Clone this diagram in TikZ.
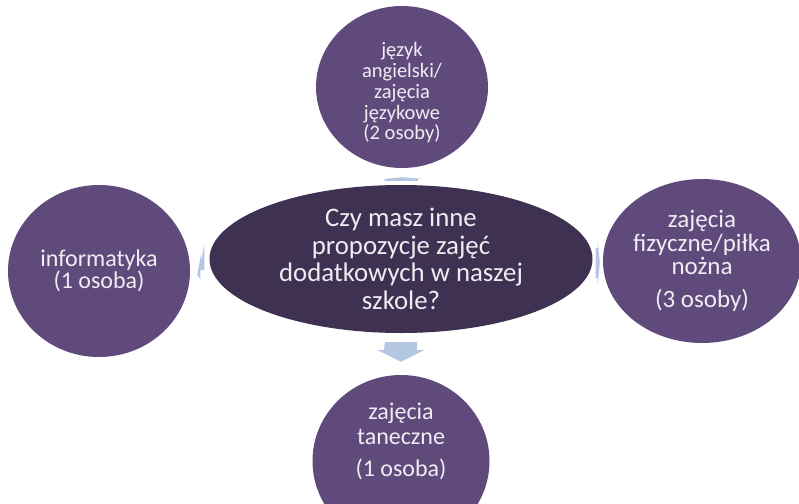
\documentclass[tikz,border=0pt]{standalone}
\usepackage{fontspec}
\setmainfont{Carlito}
\usetikzlibrary{shapes.geometric, calc, positioning}
\usepackage{xcolor}

\definecolor{bubblepurple}{HTML}{604A7B}
\definecolor{centerpurple}{HTML}{3F3151}
\definecolor{arrowblue}{HTML}{B4C7E2}
\definecolor{bubbletext}{HTML}{EFEDF2}

\tikzset{
  bubble/.style={ellipse, fill=bubblepurple, text=bubbletext, align=center, inner sep=0pt},
  arrowfill/.style={fill=arrowblue},
}

\begin{document}
\begin{tikzpicture}[x=1pt, y=-1pt]
  \clip (0,0) rectangle (799,503);
  \fill[white] (0,0) rectangle (799,503);

  % centre question
  \node[bubble, fill=centerpurple, minimum width=383pt, minimum height=148pt,
        font={\fontsize{26.8}{27.5}\selectfont}] (pytanie) at (401,259)
    {Czy masz inne\\propozycje zajęć\\dodatkowych w naszej\\szkole?};

  % answers
  \node[bubble, minimum width=172pt, minimum height=162pt,
        font={\fontsize{20.5}{20.8}\selectfont}] (jezyk) at (402,87)
    {\rule{0pt}{26pt}język\\angielski/\\zajęcia\\językowe\\(2 osoby)};
  \node[bubble, minimum width=182pt, minimum height=172pt,
        font={\fontsize{24}{22}\selectfont}] (informatyka) at (99,271)
    {informatyka\\(1 osoba)};
  \node[bubble, minimum width=198pt, minimum height=164pt,
        font={\fontsize{25}{23.5}\selectfont}] (fizyczne) at (702,261)
    {zajęcia\\fizyczne/piłka\\nożna\\[9pt](3 osoby)};
  \node[bubble, minimum width=177pt, minimum height=172pt,
        font={\fontsize{24}{25}\selectfont}] (taneczne) at (401,461)
    {zajęcia\\taneczne\\[7pt](1 osoba)\\[18pt]};

  % block arrows between the question and the answers
  \fill[arrowfill] ($(pytanie.south)+(-16,9)$) -- ++(32,0) -- ++(0,8) -- ++(7,0)
    -- ($(taneczne.north)+(0,-13)$) -- ++(-24,-12) -- ++(7,0) -- cycle;
  \fill[arrowfill] ($(pytanie.west)+(-5,-15)$) -- ++(0,26) -- ++(-4,0) -- ++(0,9)
    -- ($(informatyka.east)+(7,4)$) -- ++(4,-22) -- ++(0,9) -- cycle;
  \fill[arrowfill] ($(pytanie.east)+(3,-11)$) -- ++(0,30) -- ++(2,0) -- ++(0,7)
    -- ($(fizyczne.west)+(-3,2)$) -- ++(-2,-23) -- ++(0,8) -- cycle;
  \fill[arrowfill] ($(pytanie.north)+(-17,-4)$) -- ++(34,0) -- ++(0,-2) -- ++(4,0)
    -- ($(jezyk.south)+(0,9)$) -- ++(-20,2) -- ++(4,0) -- cycle;
\end{tikzpicture}
\end{document}
